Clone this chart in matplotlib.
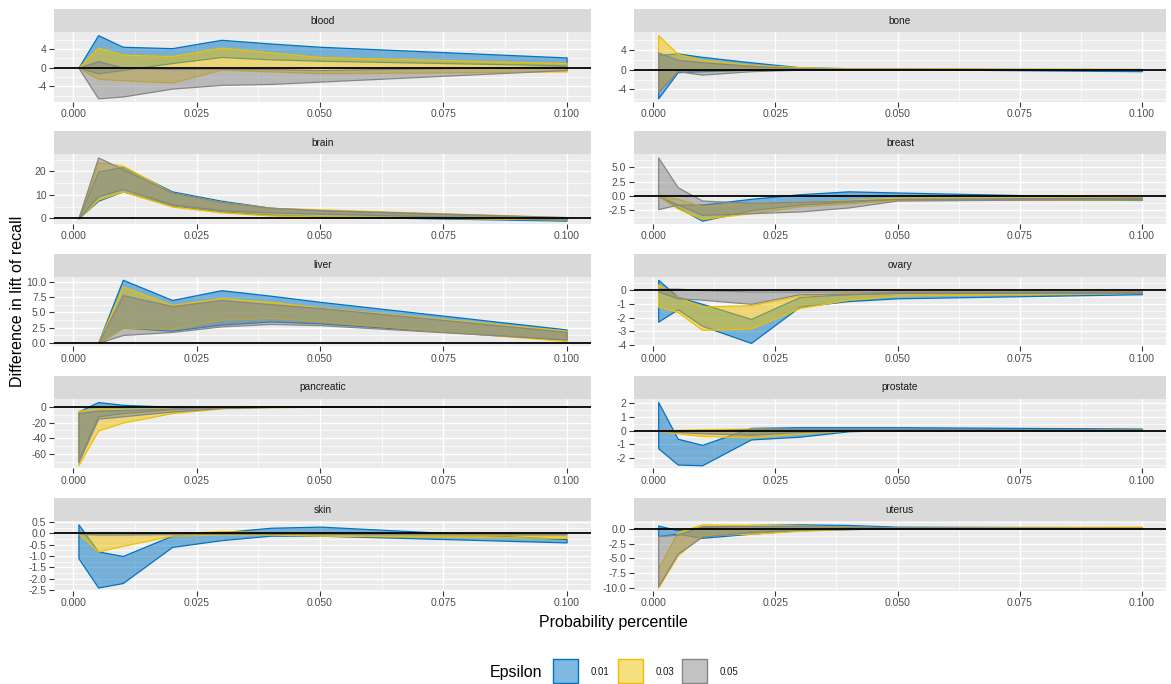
import matplotlib
matplotlib.use("Agg")
import matplotlib.pyplot as plt
from matplotlib.patches import Rectangle
import numpy as np

plt.rcParams["font.family"] = ["Liberation Sans", "DejaVu Sans"]

nan = float("nan")
percentile = [0.001, 0.005, 0.01, 0.02, 0.03, 0.04, 0.05, 0.1]
epsilons = ["0.01", "0.03", "0.05"]
fills = ["#0073C2", "#EFC000", "#868686"]

# each panel: one row per epsilon (0.01, 0.03, 0.05), lower and upper ribbon edges
blood_lower = [[0, -1.2, -0.5, 1.0, 2.3, 1.8, 1.5, 0.5],
               [0, -2.4, -2.7, -3.2, -0.4, -0.8, -1.2, -0.8],
               [0, -6.6, -6.2, -4.5, -3.7, -3.5, -3.0, -0.5]]
blood_upper = [[0, 7.0, 4.5, 4.2, 6.0, 5.2, 4.5, 2.2],
               [0, 4.3, 2.8, 2.5, 4.3, 3.3, 2.3, 1.0],
               [0, 1.4, 0.0, -0.3, -0.2, -0.3, -0.5, 0.3]]

bone_lower = [[-5.8, -0.5, -0.3, 0.0, 0.1, 0.1, 0.1, -0.3],
              [-4.0, 0.3, 0.2, 0.2, 0.2, 0.2, 0.2, 0.0],
              [-4.5, -0.3, -1.0, -0.3, 0.0, 0.0, 0.0, 0.0]]
bone_upper = [[3.0, 3.3, 2.6, 1.5, 0.5, 0.3, 0.2, -0.1],
              [7.0, 3.2, 2.0, 1.0, 0.5, 0.3, 0.3, 0.2],
              [3.5, 2.0, 1.5, 0.8, 0.3, 0.2, 0.2, 0.1]]

brain_lower = [[0, 7.5, 11.5, 5.5, 3.0, 1.5, 0.8, -1.0],
               [0, 8.0, 11.5, 5.0, 2.5, 1.2, 0.8, -0.5],
               [0, 9.5, 12.5, 6.0, 3.5, 2.5, 2.0, -0.5]]
brain_upper = [[0, 20.0, 22.0, 11.5, 7.5, 4.5, 3.5, 0.3],
               [0, 24.0, 22.5, 11.0, 7.0, 4.5, 3.8, 0.5],
               [0, 26.0, 21.0, 11.0, 7.0, 4.5, 3.5, 0.5]]

breast_lower = [[0, -2.0, -4.3, -2.5, -1.5, -1.0, -0.5, -0.7],
                [0, -2.2, -4.0, -3.0, -1.8, -1.3, -0.7, -0.6],
                [-2.3, -1.5, -3.3, -3.0, -2.7, -2.0, -0.8, -0.5]]
breast_upper = [[0, -1.5, -1.5, -0.5, 0.3, 0.8, 0.6, -0.3],
                [0, -0.5, -1.8, -1.2, -1.0, -0.7, -0.3, -0.2],
                [6.7, 1.5, -0.8, -1.2, -1.0, -0.8, -0.5, -0.3]]

liver_lower = [[nan, 0, 2.5, 2.0, 3.0, 3.5, 3.2, 0.5],
               [nan, 0, 2.5, 2.3, 3.8, 4.1, 3.5, 0.3],
               [nan, 0, 1.3, 1.8, 2.7, 3.1, 2.9, 0.6]]
liver_upper = [[nan, 0, 10.3, 7.0, 8.6, 7.7, 6.7, 2.2],
               [nan, 0, 9.2, 6.2, 7.3, 6.7, 5.8, 2.0],
               [nan, 0, 7.8, 6.0, 7.0, 6.3, 5.7, 1.8]]

ovary_lower = [[-2.3, -1.4, -2.6, -3.85, -1.2, -0.8, -0.6, -0.3],
               [-1.2, -1.6, -2.9, -2.8, -1.3, -0.7, -0.4, -0.2],
               [-0.1, -0.6, -0.7, -1.0, -0.3, -0.3, -0.2, -0.2]]
ovary_upper = [[0.75, -0.5, -1.0, -2.1, -0.5, -0.3, -0.2, -0.1],
               [0.4, -0.5, -1.2, -1.1, -0.4, -0.2, -0.1, -0.1],
               [0.1, 0.1, 0.0, -0.1, -0.1, -0.1, -0.1, -0.1]]

pancreatic_lower = [[-68, -12, -8, -3, -0.5, 0, 0, 0],
                    [-74, -30, -20, -8, -2, -0.5, 0, 0],
                    [-70, -15, -12, -6, -1.5, -0.3, 0, 0]]
pancreatic_upper = [[-6, 6, 2.5, 0, 0, 0, 0, 0],
                    [-5, -2, -3, -1.5, 0, 0, 0, 0],
                    [-8, -5, -4, -2, -0.5, 0, 0, 0]]

prostate_lower = [[-1.3, -2.5, -2.55, -0.65, -0.45, -0.05, 0.05, 0.1],
                  [0, -0.2, -0.4, -0.5, -0.2, 0, 0, 0],
                  [0, -0.1, -0.2, -0.3, -0.1, 0, 0, 0.05]]
prostate_upper = [[2.1, -0.6, -1.05, 0.2, 0.25, 0.25, 0.25, 0.15],
                  [0, 0.05, 0.1, 0.15, 0.1, 0.05, 0.05, 0.05],
                  [0, 0, 0, 0.1, 0.1, 0.1, 0.1, 0.1]]

skin_lower = [[-1.1, -2.4, -2.2, -0.6, -0.3, -0.1, -0.1, -0.4],
              [0.0, -0.8, -0.55, -0.1, -0.05, -0.05, -0.1, -0.2],
              [-0.02, -0.05, -0.05, -0.03, -0.02, -0.02, -0.02, -0.05]]
skin_upper = [[0.4, -0.8, -1.0, -0.1, 0.05, 0.25, 0.3, -0.25],
              [0.05, 0.05, 0.0, 0.0, 0.1, 0.05, 0.0, -0.1],
              [0.02, 0.02, 0.02, 0.02, 0.02, 0.02, 0.02, 0.0]]

uterus_lower = [[-1.2, -0.8, -1.5, -0.8, -0.2, 0.0, 0.1, 0.1],
                [-10.0, -4.5, -1.0, -0.8, -0.3, 0.0, 0.1, 0.1],
                [-9.8, -4.2, -1.3, -0.5, -0.1, 0.0, 0.1, 0.1]]
uterus_upper = [[0.6, -0.2, 0.3, 0.7, 0.8, 0.7, 0.4, 0.3],
                [-6.7, -0.5, 0.8, 0.7, 0.6, 0.4, 0.3, 0.4],
                [-1.2, -1.0, 0.5, 0.5, 0.5, 0.4, 0.3, 0.2]]

x_breaks = [0.0, 0.025, 0.05, 0.075, 0.1]
x_labels = ["0.000", "0.025", "0.050", "0.075", "0.100"]

panels = [
    ("blood", blood_lower, blood_upper, [-4, 0, 4], 0),
    ("bone", bone_lower, bone_upper, [-4, 0, 4], 0),
    ("brain", brain_lower, brain_upper, [0, 10, 20], 0),
    ("breast", breast_lower, breast_upper, [-2.5, 0.0, 2.5, 5.0], 1),
    ("liver", liver_lower, liver_upper, [0.0, 2.5, 5.0, 7.5, 10.0], 1),
    ("ovary", ovary_lower, ovary_upper, [-4, -3, -2, -1, 0], 0),
    ("pancreatic", pancreatic_lower, pancreatic_upper, [-60, -40, -20, 0], 0),
    ("prostate", prostate_lower, prostate_upper, [-2, -1, 0, 1, 2], 0),
    ("skin", skin_lower, skin_upper, [-2.5, -2.0, -1.5, -1.0, -0.5, 0.0, 0.5], 1),
    ("uterus", uterus_lower, uterus_upper, [-10.0, -7.5, -5.0, -2.5, 0.0], 1),
]

W, H = 1171, 684
COL_LEFT = [54, 634]
COL_WIDTH = [537, 532]
ROW_TOP = [9 + 122.3 * i for i in range(5)]
STRIP_H, PANEL_H = 23, 69.5


def box(left, top, width, height):
    return [left / W, 1 - (top + height) / H, width / W, height / H]


def expand(lo, hi, mult=0.05):
    pad = (hi - lo) * mult
    return lo - pad, hi + pad


def minor_breaks(breaks, lim):
    step = breaks[1] - breaks[0]
    start = breaks[0] - step / 2
    vals = start + step * np.arange(-20, 40)
    return [v for v in vals if lim[0] < v < lim[1] and not np.any(np.isclose(v, breaks))]


fig = plt.figure(figsize=(W / 100, H / 100), dpi=100)
x = np.array(percentile)
xlim = expand(min(percentile), max(percentile))

for k, (name, lower, upper, breaks, decimals) in enumerate(panels):
    row, col = divmod(k, 2)
    left, width, top = COL_LEFT[col], COL_WIDTH[col], ROW_TOP[row]

    strip = fig.add_axes(box(left, top, width, STRIP_H))
    strip.set_facecolor("#D9D9D9")
    strip.set_xticks([]); strip.set_yticks([])
    for s in strip.spines.values():
        s.set_visible(False)
    strip.text(0.5, 0.5, name, ha="center", va="center", fontsize=7.3, color="#1A1A1A",
               transform=strip.transAxes)

    ax = fig.add_axes(box(left, top + STRIP_H, width, PANEL_H))
    ax.set_facecolor("#EBEBEB")
    for s in ax.spines.values():
        s.set_visible(False)

    lo_all = np.nanmin(np.array(lower, dtype=float))
    hi_all = np.nanmax(np.array(upper, dtype=float))
    ylim = expand(min(lo_all, 0), max(hi_all, 0))

    for v in minor_breaks(breaks, ylim):
        ax.axhline(v, color="white", lw=0.5, zorder=0)
    for v in minor_breaks(x_breaks, xlim):
        ax.axvline(v, color="white", lw=0.5, zorder=0)
    for v in breaks:
        ax.axhline(v, color="white", lw=1.0, zorder=0)
    for v in x_breaks:
        ax.axvline(v, color="white", lw=1.0, zorder=0)

    for lo, hi, colour in zip(lower, upper, fills):
        lo = np.array(lo, dtype=float); hi = np.array(hi, dtype=float)
        ok = ~np.isnan(lo)
        ax.fill_between(x[ok], lo[ok], hi[ok], facecolor=matplotlib.colors.to_rgba(colour, 0.5),
                        edgecolor=colour, lw=0.9, zorder=2)
    ax.axhline(0, color="black", lw=1.3, zorder=3)

    ax.set_xlim(xlim); ax.set_ylim(ylim)
    ax.set_xticks(x_breaks); ax.set_xticklabels(x_labels)
    ax.set_yticks(breaks)
    ax.set_yticklabels([f"{b:.{decimals}f}" for b in breaks])
    ax.tick_params(length=3.5, width=0.8, color="#333333", labelsize=7.5,
                   labelcolor="#4D4D4D", pad=2)

fig.text(613 / W, 1 - 622 / H, "Probability percentile", ha="center", va="center", fontsize=11.5)
fig.text(18 / W, 1 - 301 / H, "Difference in lift of recall", ha="center", va="center",
         rotation=90, fontsize=11.5)

# legend along the bottom
fig.text(490 / W, 1 - 672 / H, "Epsilon", ha="left", va="center", fontsize=11.5)
for i, (label, colour) in enumerate(zip(epsilons, fills)):
    kx = 553 + 64.5 * i
    fig.add_artist(Rectangle((kx / W, 1 - 683 / H), 25 / W, 24 / H, transform=fig.transFigure,
                             facecolor=matplotlib.colors.to_rgba(colour, 0.5),
                             edgecolor=colour, lw=1.0))
    fig.text((kx + 38) / W, 1 - 672 / H, label, ha="left", va="center", fontsize=7.0,
             color="#1A1A1A")

fig.savefig("out.png", dpi=100)
